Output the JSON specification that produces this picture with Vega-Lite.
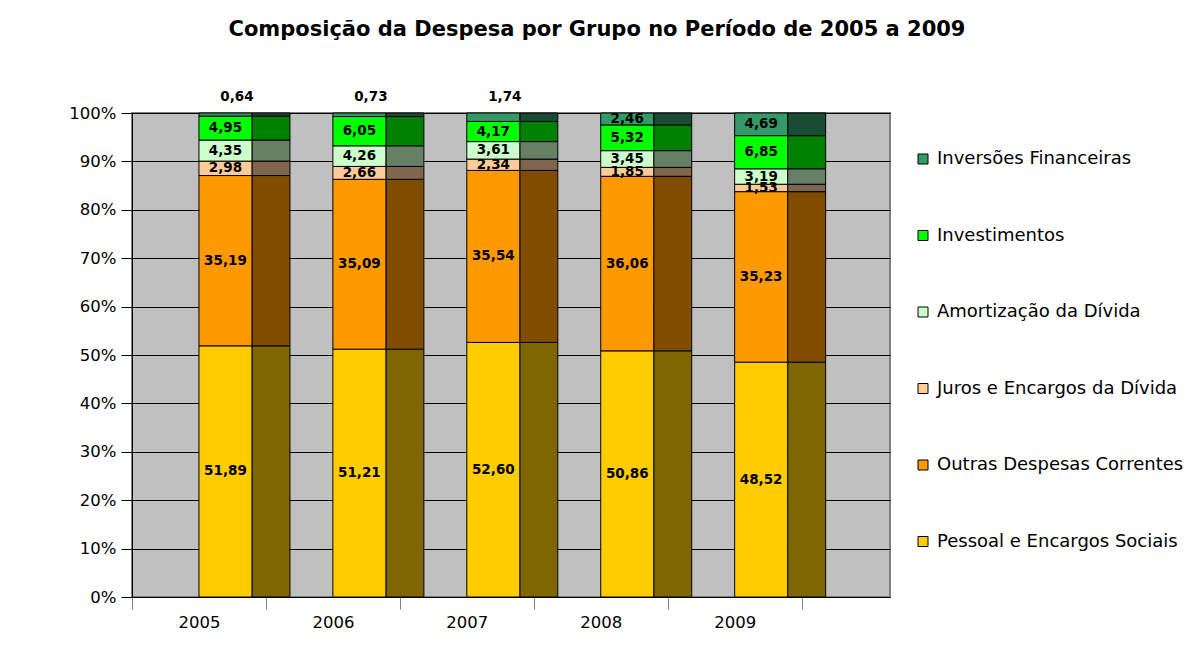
{
  "$schema": "https://vega.github.io/schema/vega-lite/v6.json",
  "width": 758,
  "height": 484,
  "autosize": {"type": "none"},
  "padding": {"left": 132, "top": 113, "right": 304, "bottom": 71},
  "background": "white",
  "config": {
    "font": "DejaVu Sans",
    "locale": {"number": {"decimal": ",", "thousands": ".", "grouping": [3], "currency": ["R$", ""]}},
    "view": {"fill": "#C0C0C0", "stroke": "#808080", "strokeWidth": 2}
  },
  "title": {
    "text": "Composição da Despesa por Grupo no Período de 2005 a 2009",
    "font": "DejaVu Sans",
    "fontSize": 21,
    "fontWeight": "bold",
    "color": "black",
    "anchor": "middle",
    "frame": "group",
    "dx": 86,
    "offset": 50
  },
  "data": {
    "values": [
      {"ano": "2005", "grupo": "Pessoal e Encargos Sociais", "valor": 51.89},
      {"ano": "2005", "grupo": "Outras Despesas Correntes", "valor": 35.19},
      {"ano": "2005", "grupo": "Juros e Encargos da Dívida", "valor": 2.98},
      {"ano": "2005", "grupo": "Amortização da Dívida", "valor": 4.35},
      {"ano": "2005", "grupo": "Investimentos", "valor": 4.95},
      {"ano": "2005", "grupo": "Inversões Financeiras", "valor": 0.64},
      {"ano": "2006", "grupo": "Pessoal e Encargos Sociais", "valor": 51.21},
      {"ano": "2006", "grupo": "Outras Despesas Correntes", "valor": 35.09},
      {"ano": "2006", "grupo": "Juros e Encargos da Dívida", "valor": 2.66},
      {"ano": "2006", "grupo": "Amortização da Dívida", "valor": 4.26},
      {"ano": "2006", "grupo": "Investimentos", "valor": 6.05},
      {"ano": "2006", "grupo": "Inversões Financeiras", "valor": 0.73},
      {"ano": "2007", "grupo": "Pessoal e Encargos Sociais", "valor": 52.60},
      {"ano": "2007", "grupo": "Outras Despesas Correntes", "valor": 35.54},
      {"ano": "2007", "grupo": "Juros e Encargos da Dívida", "valor": 2.34},
      {"ano": "2007", "grupo": "Amortização da Dívida", "valor": 3.61},
      {"ano": "2007", "grupo": "Investimentos", "valor": 4.17},
      {"ano": "2007", "grupo": "Inversões Financeiras", "valor": 1.74},
      {"ano": "2008", "grupo": "Pessoal e Encargos Sociais", "valor": 50.86},
      {"ano": "2008", "grupo": "Outras Despesas Correntes", "valor": 36.06},
      {"ano": "2008", "grupo": "Juros e Encargos da Dívida", "valor": 1.85},
      {"ano": "2008", "grupo": "Amortização da Dívida", "valor": 3.45},
      {"ano": "2008", "grupo": "Investimentos", "valor": 5.32},
      {"ano": "2008", "grupo": "Inversões Financeiras", "valor": 2.46},
      {"ano": "2009", "grupo": "Pessoal e Encargos Sociais", "valor": 48.52},
      {"ano": "2009", "grupo": "Outras Despesas Correntes", "valor": 35.23},
      {"ano": "2009", "grupo": "Juros e Encargos da Dívida", "valor": 1.53},
      {"ano": "2009", "grupo": "Amortização da Dívida", "valor": 3.19},
      {"ano": "2009", "grupo": "Investimentos", "valor": 6.85},
      {"ano": "2009", "grupo": "Inversões Financeiras", "valor": 4.69}
    ]
  },
  "transform": [
    {"calculate": "indexof(['Pessoal e Encargos Sociais','Outras Despesas Correntes','Juros e Encargos da Dívida','Amortização da Dívida','Investimentos','Inversões Financeiras'], datum.grupo)", "as": "ordem"},
    {"stack": "valor", "groupby": ["ano"], "sort": [{"field": "ordem", "order": "ascending"}], "as": ["y0", "y1"]},
    {"calculate": "(datum.y0 + datum.y1) / 2", "as": "ymid"}
  ],
  "encoding": {
    "x": {
      "field": "ano",
      "type": "nominal",
      "title": null,
      "scale": {"paddingInner": 0, "paddingOuter": 0.33, "align": 0},
      "axis": {
        "tickBand": "extent",
        "labelAngle": 0,
        "labelFont": "DejaVu Sans",
        "labelFontSize": 16.5,
        "labelColor": "black",
        "labelPadding": 5,
        "tickSize": 12,
        "tickColor": "#808080",
        "domainColor": "black",
        "grid": false
      }
    }
  },
  "layer": [
    {
      "mark": {"type": "bar", "width": 38, "xOffset": 72, "stroke": "black", "strokeWidth": 1},
      "encoding": {
        "y": {
          "field": "y0",
          "type": "quantitative",
          "scale": {"domain": [0, 100], "nice": false},
          "title": null,
          "axis": {
            "values": [0, 10, 20, 30, 40, 50, 60, 70, 80, 90, 100],
            "labelExpr": "datum.value + '%'",
            "labelFont": "DejaVu Sans",
            "labelFontSize": 16.5,
            "labelColor": "black",
            "labelPadding": 5,
            "tickSize": 11,
            "tickColor": "black",
            "domainColor": "black",
            "grid": true,
            "gridColor": "black",
            "gridWidth": 1
          }
        },
        "y2": {"field": "y1"},
        "color": {
          "field": "grupo",
          "type": "nominal",
          "legend": null,
          "scale": {
            "domain": ["Inversões Financeiras", "Investimentos", "Amortização da Dívida", "Juros e Encargos da Dívida", "Outras Despesas Correntes", "Pessoal e Encargos Sociais"],
            "range": ["#1A4C33", "#008000", "#668066", "#80664C", "#804C00", "#806600"]
          }
        }
      }
    },
    {
      "mark": {"type": "bar", "width": 53, "xOffset": 26.5, "stroke": "black", "strokeWidth": 1},
      "encoding": {
        "y": {"field": "y0", "type": "quantitative"},
        "y2": {"field": "y1"},
        "fill": {
          "field": "grupo",
          "type": "nominal",
          "title": null,
          "scale": {
            "domain": ["Inversões Financeiras", "Investimentos", "Amortização da Dívida", "Juros e Encargos da Dívida", "Outras Despesas Correntes", "Pessoal e Encargos Sociais"],
            "range": ["#339966", "#00FF00", "#CCFFCC", "#FFCC99", "#FF9900", "#FFCC00"]
          },
          "legend": {
            "orient": "none",
            "legendX": 782,
            "legendY": 37,
            "symbolType": "square",
            "symbolSize": 100,
            "symbolStrokeColor": "black",
            "symbolStrokeWidth": 1,
            "symbolOpacity": 1,
            "labelFont": "DejaVu Sans",
            "labelFontSize": 18,
            "labelColor": "black",
            "labelLimit": 300,
            "labelOffset": 5,
            "rowPadding": 58.5
          }
        }
      }
    },
    {
      "transform": [{"filter": "!(datum.grupo == 'Inversões Financeiras' && datum.valor < 2)"}],
      "mark": {"type": "text", "xOffset": 26.5, "font": "DejaVu Sans", "fontSize": 13.5, "fontWeight": "bold", "color": "black", "baseline": "middle"},
      "encoding": {
        "y": {"field": "ymid", "type": "quantitative"},
        "text": {"field": "valor", "type": "quantitative", "format": ".2f"}
      }
    },
    {
      "transform": [{"filter": "datum.grupo == 'Inversões Financeiras' && datum.valor < 2"}],
      "mark": {"type": "text", "xOffset": 38, "dy": -16, "font": "DejaVu Sans", "fontSize": 13.5, "fontWeight": "bold", "color": "black", "baseline": "middle"},
      "encoding": {
        "y": {"field": "y1", "type": "quantitative"},
        "text": {"field": "valor", "type": "quantitative", "format": ".2f"}
      }
    }
  ],
  "resolve": {"scale": {"color": "independent", "fill": "independent"}}
}
